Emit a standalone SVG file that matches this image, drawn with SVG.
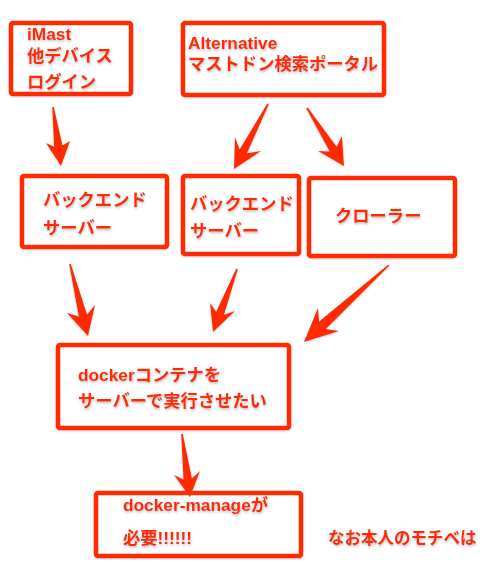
<svg xmlns="http://www.w3.org/2000/svg" width="500" height="566" viewBox="0 0 500 566">
<defs>
<filter id="ts" x="-10%" y="-30%" width="120%" height="160%">
<feDropShadow dx="0.5" dy="1.5" stdDeviation="0.8" flood-color="#888" flood-opacity="0.6"/>
</filter>
<filter id="bs" x="-5%" y="-5%" width="110%" height="110%">
<feDropShadow dx="0" dy="1" stdDeviation="0.8" flood-color="#888" flood-opacity="0.4"/>
</filter>
</defs>
<style>
.box{fill:#fff;stroke:#FF2A00;stroke-width:4.5;filter:url(#bs)}
.t{font-family:"Liberation Sans","Noto Sans CJK JP",sans-serif;font-weight:bold;font-size:17.3px;fill:#FF2A00;filter:url(#ts)}
.arr{fill:#FF2A00;filter:url(#bs)}
</style>
<rect width="500" height="566" fill="#fff"/>
<g id="imast">
<rect class="box" x="11" y="23" width="120" height="71" rx="2"/>
<text class="t" x="27" y="40">iMast</text>
<text class="t" x="27" y="62">他デバイス</text>
<text class="t" x="27" y="88">ログイン</text>
</g>
<g id="alternative">
<rect class="box" x="183" y="23" width="201" height="72" rx="2"/>
<text class="t" x="188" y="49">Alternative</text>
<text class="t" x="188" y="70">マストドン検索ポータル</text>
</g>
<g id="backend1">
<rect class="box" x="22" y="176" width="145" height="71" rx="2"/>
<text class="t" x="43" y="206">バックエンド</text>
<text class="t" x="43" y="234">サーバー</text>
</g>
<g id="backend2">
<rect class="box" x="183" y="176" width="116" height="78" rx="2"/>
<text class="t" x="190" y="210">バックエンド</text>
<text class="t" x="190" y="237">サーバー</text>
</g>
<g id="crawler">
<rect class="box" x="309" y="178" width="146" height="78" rx="2"/>
<text class="t" x="335" y="222">クローラー</text>
</g>
<g id="docker">
<rect class="box" x="58" y="345" width="231" height="83" rx="2"/>
<text class="t" x="78" y="381">dockerコンテナを</text>
<text class="t" x="78" y="407">サーバーで実行させたい</text>
</g>
<g id="manage">
<rect class="box" x="96" y="493" width="205" height="63" rx="2"/>
<text class="t" x="123" y="511">docker-manageが</text>
<text class="t" x="123" y="544">必要!!!!!!</text>
</g>
<g id="note">
<text class="t" x="328" y="544" style="font-size:16.5px">なお本人のモチベは</text>
</g>
<g id="connectors">
<polygon class="arr" points="53.8,107 62.5,145.6 70,141 61,166 46,143 54.1,146.8 52.2,107"/>
<polygon class="arr" points="268.7,104.4 247,153.2 261,151 234,169 235,137 239.6,149.4 267.3,103.6"/>
<polygon class="arr" points="307.7,107.6 336.7,146.8 342,136 344,166 318,151 329.7,151.4 306.3,108.4"/>
<polygon class="arr" points="70.8,264 87,314.6 95,305 88,336 67,313 78.8,316.6 69.2,264"/>
<polygon class="arr" points="237.8,269.3 224,314.8 235,311 213,332 210,303 216.2,311.8 236.2,268.7"/>
<polygon class="arr" points="389.5,265.6 325.9,328.9 339,331 304,342 318,308 319.1,321.5 388.5,264.4"/>
<polygon class="arr" points="182.8,434 191.9,478.6 200,471 190,497 174,475 183.5,479.6 181.2,434"/>
</g>
</svg>
